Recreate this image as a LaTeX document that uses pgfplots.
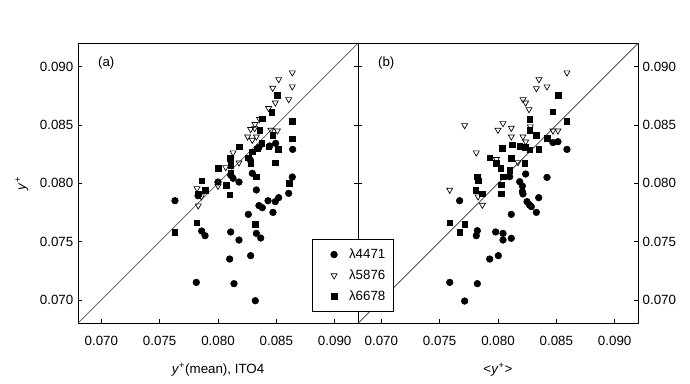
\documentclass[border=0pt]{standalone}
\usepackage{fontspec}
\setmainfont{Liberation Sans}
\usepackage{pgfplots}
\pgfplotsset{compat=1.18}

\pgfplotsset{
  panel/.style={
    width=210pt, height=210pt, scale only axis,
    xmin=0.068, xmax=0.092, ymin=0.068, ymax=0.092,
    xtick={0.070,0.075,0.080,0.085,0.090},
    ytick={0.070,0.075,0.080,0.085,0.090},
    scaled ticks=false,
    tick align=inside, major tick length=3pt,
    xtick pos=bottom, ytick pos=both,
    axis line style={line width=0.6pt},
    tick style={line width=0.5pt, black},
    tick label style={font=\normalsize},
    label style={font=\normalsize},
    xticklabel style={yshift=-6pt, /pgf/number format/.cd, fixed, fixed zerofill, precision=3, assume math mode=true},
    yticklabel style={/pgf/number format/.cd, fixed, fixed zerofill, precision=3, assume math mode=true},
    xlabel style={at={(axis description cs:0.5,-0.165)}, anchor=center},
  },
  circ/.style={only marks, mark=*, mark size=2.5pt, mark options={draw=black, fill=black}},
  tri/.style={only marks, mark=triangle, mark size=2.6pt, mark options={rotate=180, draw=black, fill=white, line width=0.5pt}},
  sq/.style={only marks, mark=square*, mark size=2.1pt, mark options={draw=black, fill=black}},
}

\begin{document}
\begin{tikzpicture}
\useasboundingbox (-58.5pt,-45.5pt) rectangle (459pt,242.5pt);

% (a) against y+(mean), ITO4
\begin{axis}[panel, name=left,
    yticklabel pos=left,
    xlabel={\textit{y}\textsuperscript{+}(mean), ITO4},
    ylabel={\textit{y}\textsuperscript{+}},
    ylabel style={at={(axis description cs:-0.2,0.5)}, anchor=center},
]
\addplot[black!80, line width=0.45pt, forget plot] coordinates {(0.068,0.068) (0.092,0.092)};
\addplot[circ] table {
0.07631 0.07851
0.07829 0.07894
0.07860 0.07591
0.07889 0.07551
0.07814 0.07151
0.08000 0.08011
0.08109 0.07583
0.08100 0.07351
0.08137 0.07140
0.08180 0.07514
0.08180 0.08011
0.08280 0.07380
0.08260 0.07734
0.08294 0.08086
0.08329 0.07943
0.08329 0.07571
0.08366 0.07531
0.08351 0.07809
0.08380 0.07791
0.08320 0.06994
0.08429 0.07851
0.08471 0.07751
0.08491 0.07843
0.08520 0.07877
0.08606 0.07914
0.08637 0.08054
0.08640 0.08291
0.08494 0.08343
0.08443 0.08320
0.08351 0.08309
0.08277 0.08200
0.08109 0.08071
0.08129 0.08043
};
\addplot[tri] table {
0.08637 0.08949
0.08520 0.08891
0.08469 0.08817
0.08637 0.08829
0.08606 0.08720
0.08491 0.08691
0.08434 0.08643
0.08357 0.08549
0.08317 0.08506
0.08280 0.08463
0.08254 0.08400
0.08294 0.08371
0.08329 0.08400
0.08454 0.08457
0.08509 0.08451
0.08129 0.08263
0.08180 0.08177
0.08066 0.08137
0.08000 0.07977
0.07820 0.07957
0.07857 0.07886
0.07831 0.07809
0.08314 0.08471
};
\addplot[sq] table {
0.08509 0.08754
0.08460 0.08611
0.08377 0.08554
0.08357 0.08457
0.08469 0.08411
0.08637 0.08534
0.08637 0.08383
0.08517 0.08294
0.08434 0.08314
0.08374 0.08343
0.08334 0.08297
0.08294 0.08271
0.08260 0.08220
0.08280 0.08174
0.08183 0.08314
0.08103 0.08217
0.08109 0.08157
0.08111 0.08086
0.08071 0.07983
0.08100 0.07903
0.08000 0.08129
0.07860 0.08023
0.07889 0.07943
0.07829 0.07909
0.07817 0.07663
0.07631 0.07583
0.08320 0.07649
0.08491 0.08177
0.08609 0.08000
0.08329 0.08057
};
\node[anchor=west, font=\normalsize] at (rel axis cs:0.055,0.93) {(a)};
\end{axis}

% (b) against <y+>
\begin{axis}[panel, name=right,
    at={(left.south east)}, anchor=south west,
    yticklabel pos=right,
    xlabel={<\textit{y}\textsuperscript{+}>},
    legend style={at={(axis description cs:-0.164,0.301)}, anchor=north west,
      draw=black, fill=white, font=\normalsize, line width=0.5pt,
      inner xsep=4pt, inner ysep=5pt, row sep=3pt, column sep=5pt},
    legend cell align=left,
    legend image code/.code={\path (-12pt,0pt) (4pt,0pt);
      \draw[#1] plot coordinates {(0pt,0pt)};},
]
\addplot[black!80, line width=0.45pt, forget plot] coordinates {(0.068,0.068) (0.092,0.092)};
\addplot[circ] table {
0.07671 0.07851
0.07823 0.07594
0.07814 0.07551
0.07980 0.07583
0.08043 0.07571
0.08043 0.07514
0.08114 0.07529
0.08114 0.07734
0.07929 0.07351
0.08003 0.07380
0.07586 0.07151
0.07823 0.07140
0.07714 0.06991
0.08209 0.07929
0.08214 0.07909
0.08249 0.07843
0.08271 0.07814
0.08329 0.07751
0.08349 0.07877
0.08237 0.08080
0.08420 0.08051
0.08471 0.08349
0.08514 0.08357
0.08591 0.08291
0.08186 0.08014
0.08209 0.07977
0.08100 0.08057
0.08286 0.07800
};
\addplot[tri] table {
0.08591 0.08949
0.08351 0.08891
0.08329 0.08814
0.08420 0.08829
0.08214 0.08720
0.08237 0.08691
0.08266 0.08634
0.07714 0.08497
0.08043 0.08514
0.08000 0.08457
0.08114 0.08474
0.08114 0.08400
0.08214 0.08400
0.08237 0.08357
0.08277 0.08486
0.08471 0.08451
0.08514 0.08451
0.07814 0.08263
0.07986 0.08206
0.08171 0.08180
0.07586 0.07943
0.07829 0.07886
0.07866 0.07814
};
\addplot[sq] table {
0.08514 0.08757
0.08471 0.08614
0.08591 0.08534
0.08271 0.08549
0.08271 0.08457
0.08329 0.08414
0.08349 0.08291
0.08420 0.08386
0.08037 0.08300
0.08123 0.08329
0.08186 0.08320
0.08234 0.08309
0.07929 0.08220
0.07986 0.08171
0.08114 0.08214
0.08229 0.08171
0.08023 0.08129
0.08100 0.08114
0.08043 0.08057
0.07823 0.08057
0.07829 0.08023
0.07809 0.07943
0.07866 0.07909
0.08029 0.07909
0.08029 0.07986
0.07586 0.07663
0.07714 0.07651
0.07671 0.07580
0.08271 0.08286
};
\legend{λ4471,λ5876,λ6678}
\node[anchor=west, font=\normalsize] at (rel axis cs:0.055,0.93) {(b)};
\end{axis}
\end{tikzpicture}
\end{document}
